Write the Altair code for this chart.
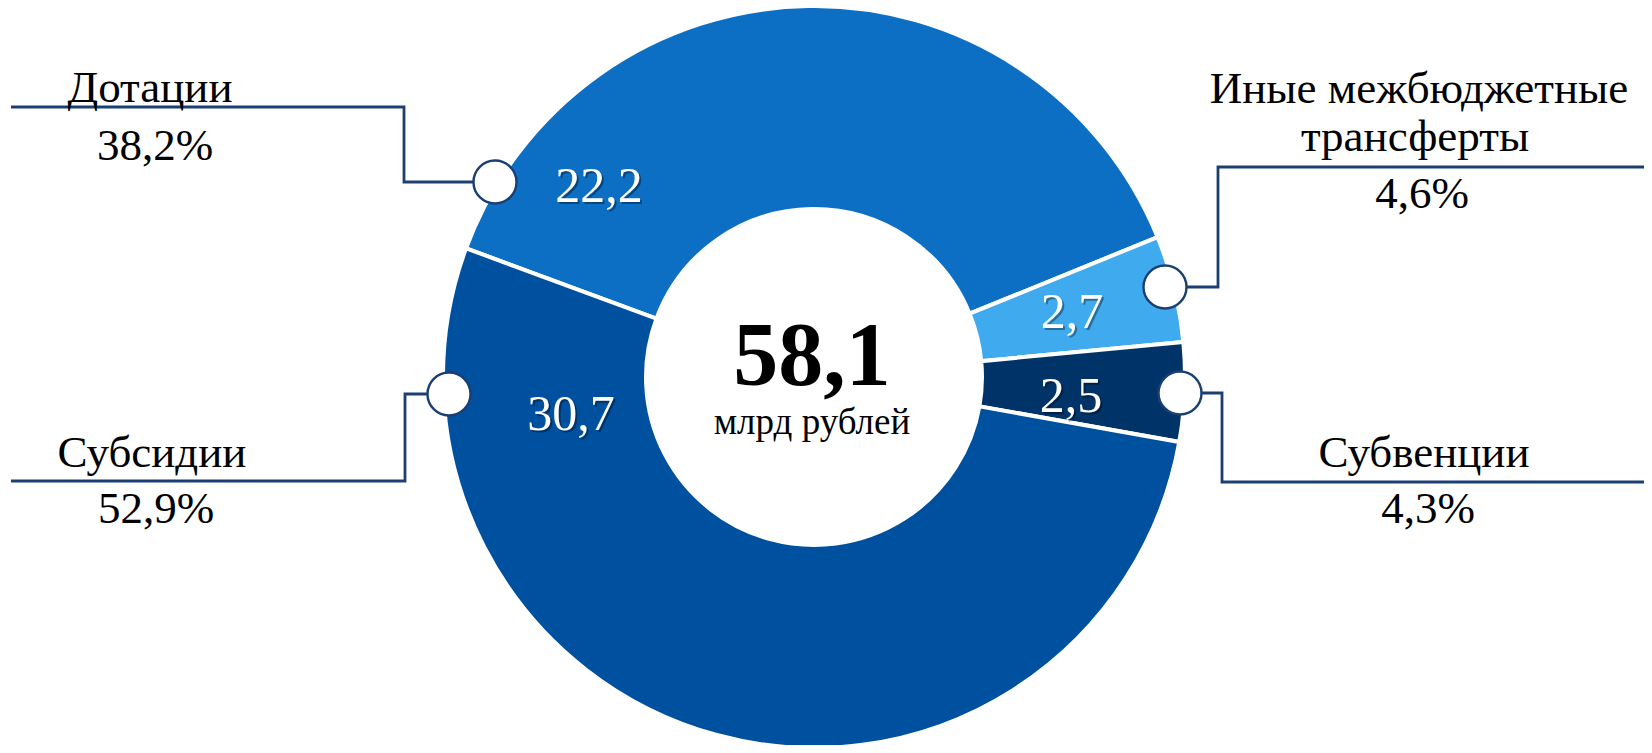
import math
import altair as alt
import pandas as pd

# ---- data ----
categories = ["Дотации", "Иные межбюджетные трансферты", "Субвенции", "Субсидии"]
values = [22.2, 2.7, 2.5, 30.7]
value_labels = ["22,2", "2,7", "2,5", "30,7"]
shares = ["38,2%", "4,6%", "4,3%", "52,9%"]
total_label = "58,1"
unit_label = "млрд рублей"

# ---- styles ----
colors = ["#0C6FC3", "#3FABEE", "#003469", "#0050A0"]
navy = "#1B3F73"
FONT = "'Liberation Serif', 'DejaVu Serif', serif"

# ---- layout (image pixel coordinates) ----
W, H = 1636, 737
OFF = 8
center = (814, 377)
start_deg = -69.7
value_pos = [(599, 202), (1072, 328), (1071, 412), (571, 430)]
marker_pos = [(495, 182), (1165, 287), (1180, 393), (449, 394)]
leader_paths = [
    [(11, 107), (404, 107), (404, 182), (495, 182)],
    [(1652, 167), (1218, 167), (1218, 287), (1165, 287)],
    [(1180, 393), (1222, 393), (1222, 482), (1652, 482)],
    [(449, 394), (405, 394), (405, 481), (11, 481)],
]
name_lines = [
    [("Дотации", 150, 102)],
    [("Иные межбюджетные", 1419, 103), ("трансферты", 1415, 151)],
    [("Субвенции", 1424, 467)],
    [("Субсидии", 152, 467)],
]
share_pos = [(155, 160), (1422, 208), (1428, 523), (156, 523)]

xs = alt.Scale(domain=[OFF, OFF + W], nice=False, zero=False)
ys = alt.Scale(domain=[OFF, OFF + H], nice=False, zero=False, reverse=True)


def X(f):
    return alt.X(f, type="quantitative", scale=xs, axis=None)


def Y(f):
    return alt.Y(f, type="quantitative", scale=ys, axis=None)


# donut
pie_df = pd.DataFrame({"cat": categories, "value": values, "idx": range(len(values))})
start = math.radians(start_deg)
donut = alt.Chart(pie_df).mark_arc(
    innerRadius=168, outerRadius=371, stroke="white", strokeWidth=4
).encode(
    theta=alt.Theta("value:Q", stack=True, scale=alt.Scale(range=[start, start + 2 * math.pi])),
    order=alt.Order("idx:Q"),
    color=alt.Color("cat:N", scale=alt.Scale(domain=categories, range=colors), legend=None),
    x=alt.datum(center[0], type="quantitative", scale=xs, axis=None),
    y=alt.datum(center[1], type="quantitative", scale=ys, axis=None),
)

# value labels with shadow
val_df = pd.DataFrame({
    "label": value_labels,
    "px": [p[0] for p in value_pos],
    "py": [p[1] for p in value_pos],
})
val_shadow = alt.Chart(val_df).mark_text(
    font=FONT, fontSize=50, color="#000000", opacity=0.35, dx=2, dy=2, baseline="alphabetic"
).encode(x=X("px"), y=Y("py"), text="label:N")
val_text = alt.Chart(val_df).mark_text(
    font=FONT, fontSize=50, color="white", baseline="alphabetic"
).encode(x=X("px"), y=Y("py"), text="label:N")

# leader lines
rows = []
for i, path in enumerate(leader_paths):
    for j, (px, py) in enumerate(path):
        rows.append({"grp": categories[i], "seq": j, "px": px, "py": py})
lines_df = pd.DataFrame(rows)
leaders = alt.Chart(lines_df).mark_line(color=navy, strokeWidth=2.8).encode(
    x=X("px"), y=Y("py"), detail="grp:N", order="seq:Q"
)

# markers
mk_df = pd.DataFrame({
    "px": [p[0] for p in marker_pos],
    "py": [p[1] for p in marker_pos],
})
markers = alt.Chart(mk_df).mark_point(
    shape="circle", filled=True, fill="white", stroke=navy, strokeWidth=2.4, size=1850, opacity=1
).encode(x=X("px"), y=Y("py"))

# category names and shares
nrows = []
for i, lines in enumerate(name_lines):
    for (t, px, py) in lines:
        nrows.append({"t": t, "px": px, "py": py})
for i, (px, py) in enumerate(share_pos):
    nrows.append({"t": shares[i], "px": px, "py": py})
names_df = pd.DataFrame(nrows)
names = alt.Chart(names_df).mark_text(
    font=FONT, fontSize=45, color="#000000", baseline="alphabetic"
).encode(x=X("px"), y=Y("py"), text="t:N")

# centre
ctr_df = pd.DataFrame({"t": [total_label], "px": [812], "py": [385]})
ctr = alt.Chart(ctr_df).mark_text(
    font=FONT, fontSize=90, fontWeight="bold", color="#000000", baseline="alphabetic"
).encode(x=X("px"), y=Y("py"), text="t:N")
unit_df = pd.DataFrame({"t": [unit_label], "px": [812], "py": [434]})
unit = alt.Chart(unit_df).mark_text(
    font=FONT, fontSize=37, color="#000000", baseline="alphabetic"
).encode(x=X("px"), y=Y("py"), text="t:N")

chart = alt.layer(
    donut, leaders, markers, val_shadow, val_text, names, ctr, unit
).properties(
    width=W, height=H, padding=0, autosize=alt.AutoSizeParams(type="none"), background="white"
).configure_view(stroke=None)

chart.save("out.html", embed_options={"renderer": "svg", "actions": False})
